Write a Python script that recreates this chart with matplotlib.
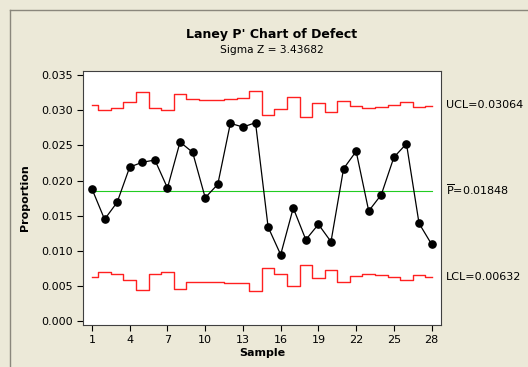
import matplotlib
matplotlib.use("Agg")
import matplotlib.pyplot as plt
from matplotlib.lines import Line2D

samples = list(range(1, 29))
proportion = [0.01881, 0.0145, 0.01692, 0.02193, 0.0226, 0.02293, 0.01895, 0.02548,
              0.02402, 0.01757, 0.01947, 0.02814, 0.02761, 0.02823, 0.01341, 0.00948,
              0.01611, 0.0116, 0.01379, 0.01132, 0.02169, 0.02416, 0.01568, 0.018,
              0.02331, 0.02524, 0.01393, 0.01095]
ucl = [0.03074, 0.02999, 0.03027, 0.03112, 0.03263, 0.03027, 0.02999, 0.03234,
       0.03155, 0.03141, 0.03141, 0.03155, 0.03169, 0.03277, 0.02936, 0.03017,
       0.03192, 0.02899, 0.03098, 0.02979, 0.03135, 0.03055, 0.03031, 0.03041,
       0.03074, 0.03121, 0.03045, 0.03064]
lcl = [0.00626, 0.00697, 0.00678, 0.00588, 0.0045, 0.00678, 0.00697, 0.00465,
       0.00564, 0.00564, 0.00564, 0.00541, 0.00541, 0.00427, 0.00763, 0.00678,
       0.00503, 0.00801, 0.00612, 0.00734, 0.0056, 0.00641, 0.00678, 0.00655,
       0.00626, 0.00588, 0.00655, 0.00632]
center = 0.01848
xticks = [1, 4, 7, 10, 13, 16, 19, 22, 25, 28]
yticks = [0.000, 0.005, 0.010, 0.015, 0.020, 0.025, 0.030, 0.035]

plt.rcParams['font.family'] = ['DejaVu Sans']
bg = '#ECE9D8'
fig = plt.figure(figsize=(5.28, 3.67), dpi=100, facecolor=bg)
ax = fig.add_axes([0.1578, 0.1153, 0.678, 0.6912])
ax.set_facecolor('white')

ax.plot(samples, ucl, drawstyle='steps-mid', color='#FF2020', lw=1.0)
ax.plot(samples, lcl, drawstyle='steps-mid', color='#FF2020', lw=1.0)
ax.plot([samples[0], samples[-1]], [center, center], color='#22CC22', lw=0.8)
ax.plot(samples, proportion, color='black', lw=0.9, marker='o', ms=5.2)

ax.set_xlim(0.31, 28.77)
ax.set_ylim(-0.00047, 0.03557)
ax.set_xticks(xticks)
ax.set_yticks(yticks)
ax.set_yticklabels([f"{v:.3f}" for v in yticks])
ax.tick_params(direction='out', length=4, width=0.8, labelsize=8, colors='black')
for s in ax.spines.values():
    s.set_color('#404040')
    s.set_linewidth(0.8)

ax.set_xlabel('Sample', fontsize=8, fontweight='bold', labelpad=2)
ax.set_ylabel('Proportion', fontsize=8, fontweight='bold', labelpad=8)

fig.text(0.515, 0.905, "Laney P' Chart of Defect", ha='center', va='center',
         fontsize=9, fontweight='bold')
fig.text(0.515, 0.865, "Sigma Z = 3.43682", ha='center', va='center', fontsize=7.7)

lab_x = 445.7 / 528
fig.text(lab_x, 1 - 105 / 367, "UCL=0.03064", ha='left', va='center', fontsize=8)
fig.text(lab_x, 1 - 190 / 367, r"$\overline{\mathrm{P}}$=0.01848", ha='left', va='center', fontsize=8)
fig.text(lab_x, 1 - 277 / 367, "LCL=0.00632", ha='left', va='center', fontsize=8)

# window frame lines
fig.add_artist(Line2D([9.5 / 528, 1], [1 - 9.5 / 367, 1 - 9.5 / 367],
                      transform=fig.transFigure, color='#8A877C', lw=1.0))
fig.add_artist(Line2D([9.5 / 528, 9.5 / 528], [0, 1 - 9.5 / 367],
                      transform=fig.transFigure, color='#8A877C', lw=1.0))

fig.savefig('out.png', dpi=100, facecolor=bg)
